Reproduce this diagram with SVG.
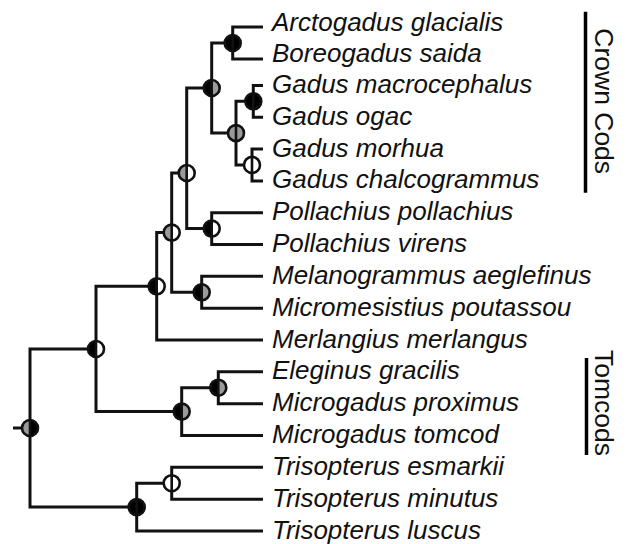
<svg xmlns="http://www.w3.org/2000/svg" xmlns:xlink="http://www.w3.org/1999/xlink" width="626" height="544" viewBox="0 0 626 544">
<style>
.edge{fill:none;stroke:#111;stroke-width:3;stroke-linejoin:miter;stroke-linecap:butt}
.tx{font-family:"Liberation Sans",Arial,sans-serif;font-style:italic;font-size:26px;fill:#111}
.cl{font-family:"Liberation Sans",Arial,sans-serif;font-size:26.5px;fill:#111}
.b{fill:#000}.g{fill:#9a9a9a}.w{fill:#fff}
.ring{fill:none;stroke:#111;stroke-width:2.6}
.div{stroke:#111;stroke-width:2.6}
.bar{stroke:#000;stroke-width:3.5}
</style>
<defs>
<path id="hl" d="M0,-8A8,8 0 0 0 0,8Z"/>
<path id="hr" d="M0,-8A8,8 0 0 1 0,8Z"/>
<g id="rd"><circle class="ring" r="8"/><line class="div" x1="0" y1="-8" x2="0" y2="8"/></g>
</defs>
<rect width="626" height="544" fill="#fff"/>
<g id="connectors">
<path class="edge" d="M13,428H30"/>
<path class="edge" d="M30,428V349H96M30,428V507.1H136.7"/>
<path class="edge" d="M96,349V286.3H156.7M96,349V411.6H181.7"/>
<path class="edge" d="M156.7,286.3V232.6H171.7M156.7,286.3V340H263"/>
<path class="edge" d="M171.7,232.6V173H186.7M171.7,232.6V292.3H201.7"/>
<path class="edge" d="M186.7,173V88H211.7M186.7,173V228.6H211.7"/>
<path class="edge" d="M211.7,88V43H232.7M211.7,88V133.1H236"/>
<path class="edge" d="M232.7,43V27H263M232.7,43V59H263"/>
<path class="edge" d="M236,133.1V101.3H253.3M236,133.1V164.9H252"/>
<path class="edge" d="M253.3,101.3V85.4H263M253.3,101.3V117.2H263"/>
<path class="edge" d="M252,164.9V149H263M252,164.9V180.9H263"/>
<path class="edge" d="M211.7,228.6V212.7H263M211.7,228.6V244.5H263"/>
<path class="edge" d="M201.7,292.3V276.3H263M201.7,292.3V308.2H263"/>
<path class="edge" d="M181.7,411.6V387.7H218.3M181.7,411.6V435.5H263"/>
<path class="edge" d="M218.3,387.7V371.8H263M218.3,387.7V403.7H263"/>
<path class="edge" d="M136.7,507.1V483.2H171.7M136.7,507.1V531H263"/>
<path class="edge" d="M171.7,483.2V467.3H263M171.7,483.2V499.2H263"/>
</g>
<g id="node-root" transform="translate(30,428)"><use href="#hl" class="g"/><use href="#hr" class="b"/><use href="#rd"/></g>
<g id="node-n10" transform="translate(96,349)"><use href="#hl" class="b"/><use href="#hr" class="w"/><use href="#rd"/></g>
<g id="node-n9" transform="translate(156.7,286.3)"><use href="#hl" class="b"/><use href="#hr" class="w"/><use href="#rd"/></g>
<g id="node-n8" transform="translate(171.7,232.6)"><use href="#hl" class="g"/><use href="#hr" class="w"/><use href="#rd"/></g>
<g id="node-n7" transform="translate(186.7,173)"><use href="#hl" class="g"/><use href="#hr" class="w"/><use href="#rd"/></g>
<g id="node-n5" transform="translate(211.7,88)"><use href="#hl" class="b"/><use href="#hr" class="g"/><use href="#rd"/></g>
<g id="node-n1" transform="translate(232.7,43)"><use href="#hl" class="b"/><use href="#hr" class="b"/><use href="#rd"/></g>
<g id="node-n4" transform="translate(236,133.1)"><use href="#hl" class="g"/><use href="#hr" class="g"/><use href="#rd"/></g>
<g id="node-n2" transform="translate(253.3,101.3)"><use href="#hl" class="b"/><use href="#hr" class="b"/><use href="#rd"/></g>
<g id="node-n3" transform="translate(252,164.9)"><use href="#hl" class="w"/><use href="#hr" class="w"/><use href="#rd"/></g>
<g id="node-n6" transform="translate(211.7,228.6)"><use href="#hl" class="b"/><use href="#hr" class="w"/><use href="#rd"/></g>
<g id="node-nmel" transform="translate(201.7,292.3)"><use href="#hl" class="b"/><use href="#hr" class="g"/><use href="#rd"/></g>
<g id="node-n12" transform="translate(181.7,411.6)"><use href="#hl" class="b"/><use href="#hr" class="g"/><use href="#rd"/></g>
<g id="node-n11" transform="translate(218.3,387.7)"><use href="#hl" class="b"/><use href="#hr" class="g"/><use href="#rd"/></g>
<g id="node-n14" transform="translate(136.7,507.1)"><use href="#hl" class="b"/><use href="#hr" class="b"/><use href="#rd"/></g>
<g id="node-n13" transform="translate(171.7,483.2)"><use href="#hl" class="w"/><use href="#hr" class="w"/><use href="#rd"/></g>
<g id="leaves">
<text class="tx" x="272" y="30.5">Arctogadus glacialis</text>
<text class="tx" x="272" y="62">Boreogadus saida</text>
<text class="tx" x="272" y="92.9">Gadus macrocephalus</text>
<text class="tx" x="272" y="124.7">Gadus ogac</text>
<text class="tx" x="272" y="156.5">Gadus morhua</text>
<text class="tx" x="272" y="188.4">Gadus chalcogrammus</text>
<text class="tx" x="272" y="220.2">Pollachius pollachius</text>
<text class="tx" x="272" y="252">Pollachius virens</text>
<text class="tx" x="272" y="283.8">Melanogrammus aeglefinus</text>
<text class="tx" x="272" y="315.7">Micromesistius poutassou</text>
<text class="tx" x="272" y="347.5">Merlangius merlangus</text>
<text class="tx" x="272" y="379.3">Eleginus gracilis</text>
<text class="tx" x="272" y="411.2">Microgadus proximus</text>
<text class="tx" x="272" y="443">Microgadus tomcod</text>
<text class="tx" x="272" y="474.8">Trisopterus esmarkii</text>
<text class="tx" x="272" y="506.7">Trisopterus minutus</text>
<text class="tx" x="272" y="538.5">Trisopterus luscus</text>
</g>
<g id="clade-crown">
<line class="bar" x1="585.5" y1="11.7" x2="585.5" y2="192.7"/>
<text class="cl" transform="translate(595,28.3) rotate(90)">Crown Cods</text>
</g>
<g id="clade-tomcods">
<line class="bar" x1="586.5" y1="358" x2="586.5" y2="455"/>
<text class="cl" transform="translate(595,350) rotate(90)">Tomcods</text>
</g>
</svg>
